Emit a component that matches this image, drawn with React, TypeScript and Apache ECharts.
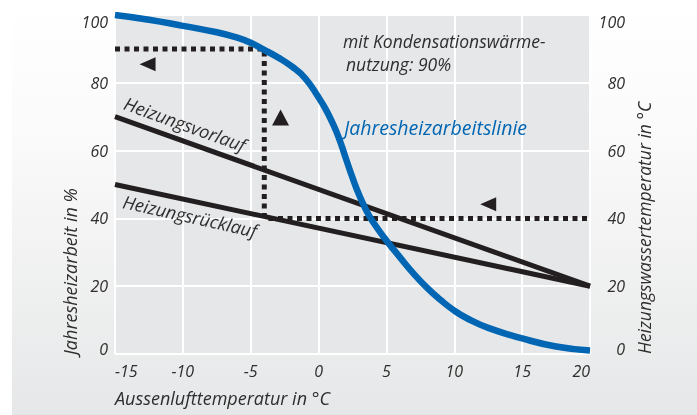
import React, { useEffect, useRef } from "react";
import * as echarts from "echarts";

const xTicks = [-15, -10, -5, 0, 5, 10, 15, 20];
const curveX = [-15, -12.5, -10, -7.5, -6, -5, -4, -3, -2, -1, 0, 0.5, 1, 1.5, 2, 2.5, 3, 3.5, 4, 5, 6, 7, 8, 9, 10, 11, 12.5, 15, 17.5, 20];
const curveY = [100, 98.6, 96.8, 94.9, 93.3, 91.8, 89.7, 87.5, 84.9, 81.4, 75.7, 72.4, 68.4, 63.7, 57.8, 52, 46.8, 42.5, 39, 33.5, 28.5, 23.7, 19.5, 15.9, 12.8, 10.4, 7.7, 4.6, 2.2, 1];
const vorlaufX = [-15, 20];
const vorlaufY = [70, 20];
const ruecklaufX = [-15, 20];
const ruecklaufY = [50, 20];
const guideX = [-15, -4, -4, 20];
const guideY = [90, 90, 40, 40];
const leftArrows = [[-12.6, 85.5], [12.5, 44.2]];
const upArrows = [[-2.8, 69.8]];

const FONT = "'Open Sans', 'Noto Sans', sans-serif";
const TXT = "#2e2e2e";
const BLUE = "#0066b3";
const DARK = "#231f20";

const zip = (xs: number[], ys: number[]) => xs.map((x, i) => [x, ys[i]]);

const yFormatter = (v: number) => (v === 100 ? `{hi|${v}}` : v === 0 ? `{lo|${v}}` : `{n|${v}}`);

export default function App() {
  const ref = useRef<HTMLDivElement>(null);
  useEffect(() => {
    if (!ref.current) return;
    const chart = echarts.init(ref.current, undefined, { renderer: "svg" });
    const labelStyle = {
      color: TXT,
      fontSize: 16,
      fontStyle: "italic" as const,
      fontFamily: FONT,
    };
    const rich = {
      hi: { ...labelStyle, padding: [14, 0, 0, 0] },
      lo: { ...labelStyle, padding: [0, 0, 10, 0] },
      n: { ...labelStyle },
    };
    const txt = (text: string, x: number, y: number, size: number, extra: any = {}, fill = TXT) => ({
      type: "text",
      x,
      y,
      z: 100,
      silent: true,
      ...extra,
      style: { text, fill, font: `italic ${size}px ${FONT}`, align: extra.align || "left", verticalAlign: "middle" },
    });
    chart.setOption({
      animation: false,
      backgroundColor: "transparent",
      grid: {
        left: 115,
        right: 107,
        top: 15,
        bottom: 61,
        show: true,
        backgroundColor: "#e6e7e9",
        borderWidth: 0,
      },
      graphic: [
        {
          type: "rect",
          z: -10,
          silent: true,
          shape: { x: 12, y: 0, width: 685, height: 415 },
          style: {
            fill: new echarts.graphic.LinearGradient(0, 0, 0, 1, [
              { offset: 0, color: "#ffffff" },
              { offset: 0.3, color: "#fbfbfb" },
              { offset: 1, color: "#e6e7e8" },
            ]),
          },
        },
        txt("Jahresheizarbeit in %", 70, 355, 18, { rotation: Math.PI / 2 }),
        txt("Heizungswassertemperatur in °C", 644, 354, 17.5, { rotation: Math.PI / 2 }),
        txt("Aussenlufttemperatur in °C", 115, 398, 18),
        txt("mit Kondensationswärme-", 343, 41, 17.5),
        txt("nutzung: 90%", 346, 63.5, 17.5),
        txt("Jahresheizarbeitslinie", 344, 127, 19.5, {}, BLUE),
        txt("Heizungsvorlauf", 185, 124, 18, { rotation: -0.345, align: "center" }),
        txt("Heizungsrücklauf", 190, 216, 18, { rotation: -0.22, align: "center" }),
      ],
      xAxis: {
        type: "value",
        min: -15,
        max: 20,
        interval: 5,
        axisLine: { show: false },
        axisTick: { show: false },
        splitLine: { show: true, lineStyle: { color: "#ffffff", width: 2 } },
        axisLabel: {
          ...labelStyle,
          margin: 9,
          alignMinLabel: "left",
          alignMaxLabel: "right",
          formatter: (v: number) => (xTicks.includes(v) ? String(v) : ""),
        },
      },
      yAxis: [
        {
          type: "value",
          min: 0,
          max: 100,
          interval: 20,
          position: "left",
          axisLine: { show: false },
          axisTick: { show: false },
          splitLine: { show: true, lineStyle: { color: "#ffffff", width: 2 } },
          axisLabel: { ...labelStyle, margin: 7, formatter: yFormatter, rich },
        },
        {
          type: "value",
          min: 0,
          max: 100,
          interval: 20,
          position: "right",
          axisLine: { show: false },
          axisTick: { show: false },
          splitLine: { show: false },
          axisLabel: { ...labelStyle, margin: 35, align: "right", formatter: yFormatter, rich },
        },
      ],
      series: [
        {
          type: "line",
          name: "guide",
          data: zip(guideX, guideY),
          symbol: "none",
          z: 2,
          lineStyle: { color: DARK, width: 5, type: [5, 4.5], cap: "butt", join: "miter" },
        },
        {
          type: "line",
          name: "Heizungsvorlauf",
          data: zip(vorlaufX, vorlaufY),
          symbol: "none",
          z: 3,
          lineStyle: { color: DARK, width: 5 },
        },
        {
          type: "line",
          name: "Heizungsrücklauf",
          data: zip(ruecklaufX, ruecklaufY),
          symbol: "none",
          z: 3,
          lineStyle: { color: DARK, width: 5 },
        },
        {
          type: "line",
          name: "Jahresheizarbeitslinie",
          data: zip(curveX, curveY),
          symbol: "none",
          smooth: 0.5,
          z: 4,
          lineStyle: { color: BLUE, width: 6.5, cap: "butt" },
        },
        {
          type: "scatter",
          data: leftArrows,
          symbol: "triangle",
          symbolSize: [14, 16],
          symbolRotate: 90,
          itemStyle: { color: DARK, opacity: 1 },
          z: 5,
        },
        {
          type: "scatter",
          data: upArrows,
          symbol: "triangle",
          symbolSize: [17, 16],
          itemStyle: { color: DARK, opacity: 1 },
          z: 5,
        },
      ],
    });
    return () => chart.dispose();
  }, []);
  return <div ref={ref} style={{ position: "fixed", left: 0, top: 0, width: 697, height: 415 }} />;
}
